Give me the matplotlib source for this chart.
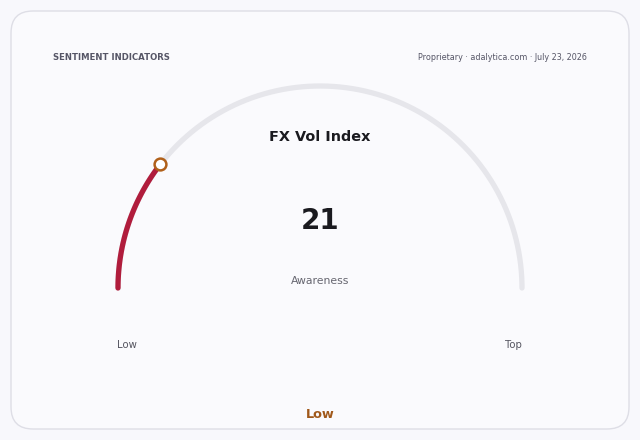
import numpy as np
import matplotlib
matplotlib.use("Agg")
import matplotlib.pyplot as plt
from matplotlib.patches import FancyBboxPatch

title = "FX Vol Index"
value = 21
vmin, vmax = 0, 100
unit_label = "Awareness"
range_labels = ["Low", "Top"]
status = "Low"
header_left = "SENTIMENT INDICATORS"
header_right = "Proprietary · adalytica.com · July 23, 2026"

W, H = 640, 440
fig = plt.figure(figsize=(W / 100, H / 100), dpi=100)
fig.patch.set_facecolor("#f8f8fc")
ax = fig.add_axes([0, 0, 1, 1])
ax.set_xlim(0, W)
ax.set_ylim(H, 0)
ax.axis("off")

card = FancyBboxPatch((11, 11), 618, 418, boxstyle="round,pad=0,rounding_size=22",
                      facecolor="#fafafd", edgecolor="#dedee6", linewidth=1.0)
ax.add_patch(card)

cx, cy, r = 320, 288, 202
theta = np.linspace(np.pi, 0, 300)
ax.plot(cx + r * np.cos(theta), cy - r * np.sin(theta), color="#e6e6eb",
        lw=3.8, solid_capstyle="round", zorder=2)
frac = (value - vmin) / (vmax - vmin)
th_v = np.linspace(np.pi, np.pi - frac * np.pi, 100)
ax.plot(cx + r * np.cos(th_v), cy - r * np.sin(th_v), color="#b01c3c",
        lw=3.8, solid_capstyle="round", zorder=3)
ax.plot([cx + r * np.cos(th_v[-1])], [cy - r * np.sin(th_v[-1])], marker="o",
        ms=8.5, mfc="white", mec="#b0601a", mew=1.8, zorder=4)

ax.text(53, 57, header_left, fontsize=6.1, fontweight="bold", color="#555566",
        ha="left", va="center")
ax.text(587, 57, header_right, fontsize=5.8, color="#555566", ha="right", va="center")
ax.text(cx, 137, title, fontsize=10.4, fontweight="bold", color="#1a1a1f",
        ha="center", va="center")
ax.text(cx, 221, str(value), fontsize=20, fontweight="bold", color="#1a1a1f",
        ha="center", va="center")
ax.text(cx, 281, unit_label, fontsize=7.8, color="#666670", ha="center", va="center")
ax.text(127, 345, range_labels[0], fontsize=7.3, color="#555560", ha="center", va="center")
ax.text(513, 345, range_labels[1], fontsize=7.3, color="#555560", ha="center", va="center")
ax.text(cx, 414, status, fontsize=9.3, fontweight="bold", color="#a0581a",
        ha="center", va="center")

fig.savefig("out.png", dpi=100, facecolor=fig.get_facecolor())
